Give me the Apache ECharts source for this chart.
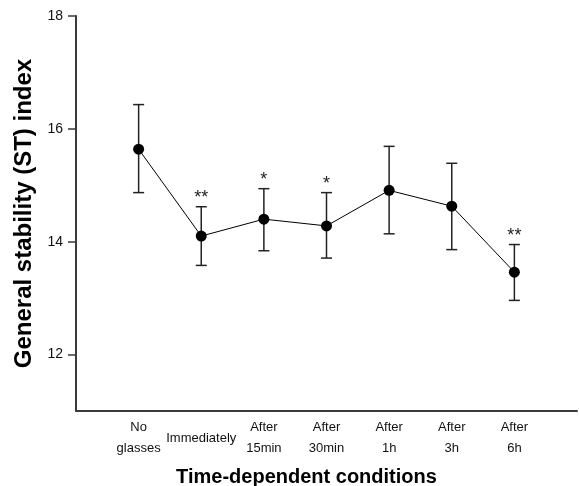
<!DOCTYPE html>
<html>
<head>
<meta charset="utf-8">
<script src="https://cdn.jsdelivr.net/npm/echarts@6/dist/echarts.min.js"></script>
<style>
  html, body { margin: 0; padding: 0; background: #fff; }
  #main { width: 579px; height: 486px; }
</style>
</head>
<body>
<div id="main"></div>
<script>
// categories and values
var categories = ['No\nglasses', 'Immediately', 'After\n15min', 'After\n30min', 'After\n1h', 'After\n3h', 'After\n6h'];
var means = [15.64, 14.10, 14.40, 14.28, 14.91, 14.63, 13.46];
var upper = [16.43, 14.62, 14.94, 14.87, 15.69, 15.39, 13.95];
var lower = [14.87, 13.58, 13.84, 13.71, 14.14, 13.86, 12.96];
var signif = ['', '**', '*', '*', '', '', '**'];
var yTicks = [12, 14, 16, 18];

var FONT = 'Arial, "Liberation Sans", sans-serif';
var AXIS_COLOR = '#3a3a3a';

var xPos = categories.map(function(c, i) { return i + 1; });
var lineData = means.map(function(m, i) { return [xPos[i], m]; });
var barData = means.map(function(m, i) { return [xPos[i], lower[i], upper[i]]; });

var myChart = echarts.init(document.getElementById('main'));

var option = {
    animation: false,
    grid: {
        left: 76,
        top: 16,
        right: 2,
        bottom: 75,
        containLabel: false,
        outerBoundsMode: 'none'
    },
    xAxis: {
        type: 'value',
        min: 0,
        max: 8,
        interval: 1,
        name: 'Time-dependent conditions',
        nameLocation: 'middle',
        nameGap: 56,
        nameTextStyle: {
            fontFamily: FONT,
            fontSize: 20,
            fontWeight: 'bold',
            color: '#000',
            padding: [0, 40, 0, 0]
        },
        splitLine: { show: false },
        axisTick: { show: false },
        axisLine: {
            show: true,
            onZero: false,
            lineStyle: { color: AXIS_COLOR, width: 2 }
        },
        axisLabel: {
            customValues: xPos,
            margin: 27,
            verticalAlign: 'middle',
            lineHeight: 21,
            fontFamily: FONT,
            fontSize: 13,
            color: '#111',
            formatter: function(v) {
                return categories[v - 1] || '';
            }
        }
    },
    yAxis: {
        type: 'value',
        min: 11,
        max: 18,
        interval: 1,
        name: 'General stability (ST) index',
        nameLocation: 'middle',
        nameGap: 39,
        nameTextStyle: {
            fontFamily: FONT,
            fontSize: 24,
            fontWeight: 'bold',
            color: '#000'
        },
        splitLine: { show: false },
        axisLine: {
            show: true,
            lineStyle: { color: AXIS_COLOR, width: 2 }
        },
        axisTick: {
            show: true,
            length: 8,
            customValues: yTicks,
            lineStyle: { color: AXIS_COLOR, width: 1.5 }
        },
        axisLabel: {
            customValues: yTicks,
            margin: 13,
            fontFamily: FONT,
            fontSize: 14,
            color: '#111'
        }
    },
    series: [{
        // error bars + significance stars
        type: 'custom',
        data: barData,
        z: 2,
        renderItem: function(params, api) {
            var x = api.value(0);
            var lo = api.coord([x, api.value(1)]);
            var hi = api.coord([x, api.value(2)]);
            var hw = 5.5;
            var st = { stroke: '#222', lineWidth: 1.5 };
            return {
                type: 'group',
                children: [{
                    type: 'line',
                    shape: { x1: lo[0], y1: lo[1], x2: hi[0], y2: hi[1] },
                    style: st
                }, {
                    type: 'line',
                    shape: { x1: hi[0] - hw, y1: hi[1], x2: hi[0] + hw, y2: hi[1] },
                    style: st
                }, {
                    type: 'line',
                    shape: { x1: lo[0] - hw, y1: lo[1], x2: lo[0] + hw, y2: lo[1] },
                    style: st
                }, {
                    type: 'text',
                    style: {
                        x: hi[0],
                        y: hi[1],
                        text: signif[params.dataIndex],
                        align: 'center',
                        verticalAlign: 'bottom',
                        fontFamily: FONT,
                        fontSize: 18,
                        fill: '#222'
                    }
                }]
            };
        }
    }, {
        type: 'line',
        data: lineData,
        z: 3,
        symbol: 'circle',
        symbolSize: 11,
        itemStyle: { color: '#000' },
        lineStyle: { color: '#000', width: 1 }
    }]
};

myChart.setOption(option);

window.addEventListener('resize', function() {
    myChart.resize();
});
</script>
</body>
</html>
